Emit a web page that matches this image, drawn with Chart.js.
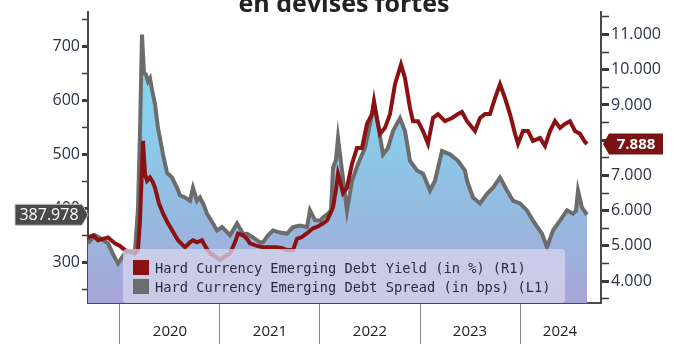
<!DOCTYPE html>
<html>
<head>
<meta charset="utf-8">
<script src="https://cdn.jsdelivr.net/npm/chart.js@4.4.1/dist/chart.umd.min.js"></script>
<style>
	html, body { margin: 0; padding: 0; background: #fff; }
	#wrap { position: relative; width: 675px; height: 344px; overflow: hidden; }
	#legend {
		position: absolute; left: 123px; top: 249px; width: 442px; height: 54px;
		background: rgba(214, 214, 238, 0.74); border-radius: 4px;
		font-family: "DejaVu Sans Mono", monospace; font-size: 13.7px; color: #2b2b3d;
		box-sizing: border-box; padding-top: 9px;
	}
	#legend .row { display: flex; align-items: center; height: 19px; }
	#legend .sw { width: 16px; height: 15px; margin: 0 6px 0 10px; }
</style>
</head>
<body>
<div id="wrap">
	<canvas id="chart" width="675" height="344"></canvas>
	<div id="legend"></div>
</div>
<script>
// ── Données ─────────────────────────────────────────────────────────
const seriesNames = [
	"Hard Currency Emerging Debt Yield (in %) (R1)",
	"Hard Currency Emerging Debt Spread (in bps) (L1)",
];
const titleText = "en devises fortes";

// temps en années décimales
const spreadT = [2019.68, 2019.75, 2019.80, 2019.88, 2019.93, 2019.98, 2020.05, 2020.15, 2020.18, 2020.20,
	2020.22, 2020.24, 2020.26, 2020.28, 2020.30, 2020.32, 2020.35, 2020.38, 2020.43, 2020.47,
	2020.52, 2020.57, 2020.60, 2020.65, 2020.70, 2020.73, 2020.77, 2020.80, 2020.84, 2020.87,
	2020.93, 2020.97, 2021.02, 2021.10, 2021.17, 2021.23, 2021.27, 2021.33, 2021.40, 2021.43,
	2021.48, 2021.53, 2021.60, 2021.67, 2021.73, 2021.80, 2021.87, 2021.90, 2021.95, 2022.00,
	2022.03, 2022.08, 2022.11, 2022.13, 2022.16, 2022.18, 2022.22, 2022.27, 2022.32, 2022.38,
	2022.45, 2022.50, 2022.54, 2022.58, 2022.63, 2022.68, 2022.73, 2022.80, 2022.85, 2022.90,
	2022.97, 2023.03, 2023.10, 2023.15, 2023.22, 2023.30, 2023.38, 2023.45, 2023.47, 2023.53,
	2023.60, 2023.67, 2023.73, 2023.80, 2023.87, 2023.93, 2024.00, 2024.07, 2024.13, 2024.22,
	2024.27, 2024.33, 2024.40, 2024.47, 2024.53, 2024.56, 2024.58, 2024.62, 2024.67];
const spreadBps = [335, 350, 345, 335, 315, 298, 317, 322, 400, 543,
	722, 650, 648, 635, 641, 620, 593, 549, 500, 466,
	457, 438, 424, 420, 414, 438, 414, 420, 405, 390,
	372, 359, 365, 350, 372, 353, 353, 346, 337, 337,
	350, 359, 355, 353, 365, 368, 365, 396, 378, 377,
	383, 390, 396, 475, 490, 530, 470, 396, 451, 482,
	512, 556, 593, 556, 500, 512, 543, 567, 543, 488,
	470, 464, 433, 451, 506, 500, 488, 470, 451, 420,
	409, 427, 438, 457, 433, 414, 409, 396, 377, 353,
	328, 359, 377, 396, 390, 395, 433, 401, 387.978];

const yieldT = [2019.68, 2019.73, 2019.78, 2019.83, 2019.88, 2019.95, 2020.00, 2020.05, 2020.15, 2020.18,
	2020.20, 2020.23, 2020.25, 2020.27, 2020.30, 2020.33, 2020.35, 2020.39, 2020.43, 2020.48,
	2020.53, 2020.58, 2020.65, 2020.70, 2020.73, 2020.77, 2020.82, 2020.86, 2020.90, 2020.95,
	2021.00, 2021.05, 2021.10, 2021.15, 2021.18, 2021.23, 2021.27, 2021.30, 2021.37, 2021.43,
	2021.50, 2021.57, 2021.63, 2021.67, 2021.73, 2021.77, 2021.82, 2021.87, 2021.93, 2021.98,
	2022.03, 2022.07, 2022.10, 2022.13, 2022.16, 2022.18, 2022.20, 2022.23, 2022.27, 2022.32,
	2022.37, 2022.42, 2022.47, 2022.52, 2022.54, 2022.57, 2022.60, 2022.65, 2022.70, 2022.75,
	2022.81, 2022.85, 2022.90, 2022.93, 2022.98, 2023.03, 2023.08, 2023.13, 2023.18, 2023.25,
	2023.32, 2023.38, 2023.42, 2023.47, 2023.55, 2023.60, 2023.65, 2023.70, 2023.75, 2023.80,
	2023.85, 2023.90, 2023.95, 2023.98, 2024.03, 2024.08, 2024.13, 2024.20, 2024.25, 2024.30,
	2024.35, 2024.40, 2024.45, 2024.50, 2024.55, 2024.60, 2024.65, 2024.67];
const yieldPct = [5.24, 5.30, 5.16, 5.20, 5.24, 5.07, 5.00, 4.88, 4.79, 4.90,
	5.72, 7.98, 7.05, 6.85, 6.94, 6.80, 6.65, 6.20, 5.92, 5.64,
	5.40, 5.16, 4.96, 5.10, 5.16, 5.10, 5.16, 4.95, 4.79, 4.70,
	4.60, 4.70, 4.79, 5.10, 5.35, 5.30, 5.20, 5.07, 5.00, 4.96,
	4.96, 4.96, 4.93, 4.88, 4.88, 5.20, 5.25, 5.36, 5.50, 5.55,
	5.64, 5.72, 5.90, 6.09, 6.60, 7.05, 6.85, 6.50, 6.65, 7.33,
	7.78, 7.78, 8.46, 8.74, 9.11, 8.60, 8.18, 8.35, 8.74, 9.59,
	10.15, 9.76, 8.91, 8.54, 8.54, 8.26, 7.90, 8.63, 8.74, 8.54,
	8.63, 8.74, 8.80, 8.54, 8.26, 8.63, 8.74, 8.74, 9.19, 9.59,
	9.19, 8.74, 8.18, 7.90, 8.26, 8.26, 7.98, 8.06, 7.84, 8.26,
	8.54, 8.35, 8.46, 8.54, 8.26, 8.18, 7.95, 7.888];

const yearTicks = [2020, 2020.5, 2021, 2021.5, 2022, 2022.5, 2023, 2023.5, 2024, 2024.4];
const leftTicks = [250, 300, 350, 400, 450, 500, 550, 600, 650, 700, 750];
const rightTicks = [3.5, 4, 4.5, 5, 5.5, 6, 6.5, 7, 7.5, 8, 8.5, 9, 9.5, 10, 10.5, 11, 11.5];

const RED = "#8a1212";
const GREY = "#6c6c6c";

document.addEventListener("DOMContentLoaded", function () {

	// ── Légende HTML ────────────────────────────────────────────────
	const legend = document.getElementById("legend");
	[RED, GREY].forEach((c, i) => {
		const row = document.createElement("div");
		row.className = "row";
		row.innerHTML = '<span class="sw" style="background:' + c + '"></span><span>' + seriesNames[i] + "</span>";
		legend.appendChild(row);
	});

	const toPts = (t, v) => t.map((x, i) => ({ x: x, y: v[i] }));
	const lastYield = yieldPct[yieldPct.length - 1];
	const lastSpread = spreadBps[spreadBps.length - 1];

	// ── Titre (coupé en haut) + étiquettes de dernière valeur ───────
	const extras = {
		id: "extras",
		afterDraw(chart) {
			const c = chart.ctx;
			c.save();
			c.fillStyle = "#222";
			c.font = 'bold 25px "Open Sans"';
			c.textAlign = "center";
			c.textBaseline = "alphabetic";
			c.fillText(titleText, 344, 12);

			// gauche : spread
			let y = chart.scales.yL.getPixelForValue(lastSpread);
			c.beginPath();
			c.moveTo(15, y - 10.5); c.lineTo(82, y - 10.5); c.lineTo(88, y);
			c.lineTo(82, y + 10.5); c.lineTo(15, y + 10.5); c.closePath();
			c.fillStyle = "#4a4a4a"; c.fill();
			c.strokeStyle = "#c4c4c4"; c.lineWidth = 1; c.stroke();
			c.fillStyle = "#fff";
			c.font = '16px "Open Sans"';
			c.textBaseline = "middle";
			c.fillText(lastSpread.toFixed(3), 49, y + 1);

			// droite : yield
			y = chart.scales.yR.getPixelForValue(lastYield);
			c.beginPath();
			c.moveTo(603, y); c.lineTo(609, y - 10.5); c.lineTo(663, y - 10.5);
			c.lineTo(663, y + 10.5); c.lineTo(609, y + 10.5); c.closePath();
			c.fillStyle = "#7a1414"; c.fill();
			c.fillStyle = "#fff";
			c.font = 'bold 15px "Open Sans"';
			c.fillText(lastYield.toFixed(3), 636, y + 1);
			c.restore();
		},
	};

	const axisFont = { family: "Open Sans", size: 16 };

	new Chart(document.getElementById("chart"), {
		type: "line",
		data: {
			datasets: [
				{
					label: seriesNames[0],
					data: toPts(yieldT, yieldPct),
					yAxisID: "yR",
					borderColor: RED,
					borderWidth: 4,
					pointRadius: 0,
					tension: 0,
					fill: false,
				},
				{
					label: seriesNames[1],
					data: toPts(spreadT, spreadBps),
					yAxisID: "yL",
					borderColor: GREY,
					borderWidth: 4,
					pointRadius: 0,
					tension: 0,
					fill: "start",
					backgroundColor: function (ctx) {
						const area = ctx.chart.chartArea;
						if (!area) return "#9cc";
						const g = ctx.chart.ctx.createLinearGradient(0, area.top, 0, area.bottom);
						g.addColorStop(0, "#7cdcf6");
						g.addColorStop(0.35, "#88d0ee");
						g.addColorStop(0.65, "#93bde1");
						g.addColorStop(1, "#a7a5d8");
						return g;
					},
				},
			],
		},
		options: {
			responsive: false,
			animation: false,
			layout: { padding: { top: 10, left: 0, right: 0, bottom: 0 } },
			plugins: {
				legend: { display: false },
				tooltip: { enabled: false },
			},
			scales: {
				x: {
					type: "linear",
					min: 2019.68,
					max: 2024.81,
					afterBuildTicks: (s) => { s.ticks = yearTicks.map((v) => ({ value: v })); },
					afterFit: (s) => { s.height = 41; },
					border: { display: true, color: "#4a4a4a", width: 2 },
					grid: {
						drawOnChartArea: false,
						tickLength: 41,
						tickWidth: 1,
						tickColor: (ctx) => (ctx.tick && Number.isInteger(ctx.tick.value) ? "#8a8a8a" : "rgba(0,0,0,0)"),
					},
					ticks: {
						autoSkip: false,
						maxRotation: 0,
						padding: -21,
						color: "#222",
						font: { family: "Open Sans", size: 15 },
						callback: (v) => (Number.isInteger(v) ? "" : String(Math.floor(v))),
					},
				},
				yL: {
					position: "left",
					min: 224.5,
					max: 764.5,
					afterBuildTicks: (s) => { s.ticks = leftTicks.map((v) => ({ value: v })); },
					afterFit: (s) => { s.width = 88; },
					border: { display: true, color: "#4a4a4a", width: 2 },
					grid: {
						drawOnChartArea: false,
						tickLength: 6,
						tickColor: "#3a3a3a",
						tickWidth: (ctx) => (ctx.tick && ctx.tick.value % 100 === 0 ? 3 : 1.5),
					},
					ticks: {
						autoSkip: false,
						padding: 2,
						color: "#2a3245",
						font: axisFont,
						callback: (v) => (v % 100 === 0 ? String(v) : ""),
					},
				},
				yR: {
					position: "right",
					min: 3.379,
					max: 11.649,
					afterBuildTicks: (s) => { s.ticks = rightTicks.map((v) => ({ value: v })); },
					afterFit: (s) => { s.width = 74; },
					border: { display: true, color: "#4a4a4a", width: 2 },
					grid: {
						drawOnChartArea: false,
						tickLength: 8,
						tickColor: "#3a3a3a",
						tickWidth: (ctx) => (ctx.tick && Number.isInteger(ctx.tick.value) ? 3 : 1.5),
					},
					ticks: {
						autoSkip: false,
						padding: 2,
						color: "#2a3245",
						font: axisFont,
						// l'étiquette cachée par la dernière valeur n'est pas affichée
						callback: (v) => (Number.isInteger(v) && Math.abs(v - lastYield) > 0.3 ? v.toFixed(3) : ""),
					},
				},
			},
		},
		plugins: [extras],
	});
});
</script>
</body>
</html>
